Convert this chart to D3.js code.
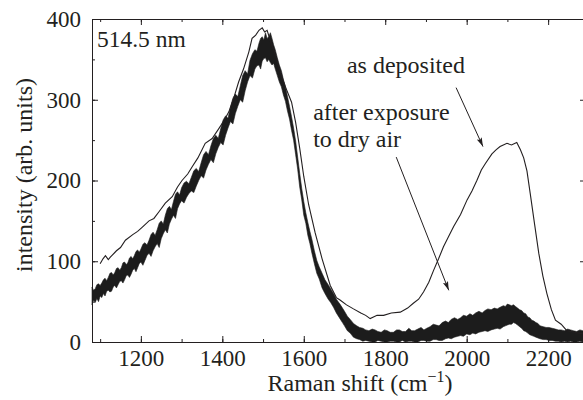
<!DOCTYPE html>
<html>
<head>
<meta charset="utf-8">
<script src="https://cdn.jsdelivr.net/npm/d3@7"></script>
<style>
  body { margin: 0; background: #fff; }
  .axis path, .axis line { stroke: #231f20; stroke-width: 1; }
</style>
</head>
<body>
<div id="chart"></div>
<script>
// "as deposited" spectrum (thin line)
const depX = [1100, 1107, 1113, 1120, 1125, 1140, 1150, 1162, 1180, 1192, 1203, 1220, 1232, 1244, 1260, 1277, 1290, 1301, 1315, 1326, 1340, 1358, 1375, 1391, 1405, 1416, 1428, 1440, 1452, 1465, 1473, 1482, 1490, 1498, 1504, 1510, 1520, 1530, 1540, 1555, 1570, 1580, 1590, 1600, 1612, 1628, 1645, 1665, 1680, 1689, 1705, 1722, 1740, 1752, 1763, 1780, 1796, 1815, 1837, 1855, 1869, 1882, 1894, 1907, 1919, 1931, 1943, 1955, 1968, 1985, 2001, 2013, 2025, 2036, 2046, 2062, 2072, 2082, 2090, 2099, 2110, 2123, 2132, 2140, 2148, 2156, 2167, 2177, 2187, 2197, 2208, 2218, 2232, 2246, 2265, 2286, 2295];
const depY = [97, 103, 107, 102, 105, 113, 117, 126, 133, 137, 142, 150, 153, 161, 172, 180, 192, 200, 208, 217, 228, 246, 252, 264, 275, 285, 302, 322, 338, 359, 376, 380, 386, 389, 384, 386, 370, 356, 338, 316, 297, 272, 240, 205, 170, 135, 103, 70, 55, 52, 46, 41, 36, 33, 29, 33, 33, 36, 37, 42, 48, 53, 62, 74, 89, 103, 118, 130, 143, 158, 176, 187, 200, 213, 221, 233, 238, 242, 244, 246, 244, 247, 238, 228, 212, 184, 145, 110, 82, 60, 40, 27, 22, 14, 12, 10, 10];

// "after exposure to dry air" spectrum (noisy thick trace): lower / upper edge of the band
const airX = [1080, 1084, 1088, 1092, 1096, 1100, 1104, 1108, 1112, 1116, 1120, 1124, 1128, 1132, 1136, 1140, 1144, 1148, 1152, 1156, 1160, 1164, 1168, 1172, 1176, 1180, 1184, 1188, 1192, 1196, 1200, 1205, 1210, 1215, 1220, 1225, 1230, 1235, 1240, 1245, 1250, 1255, 1260, 1265, 1270, 1275, 1280, 1285, 1290, 1295, 1300, 1306, 1312, 1318, 1324, 1330, 1336, 1342, 1348, 1354, 1360, 1366, 1372, 1378, 1384, 1390, 1396, 1402, 1408, 1414, 1420, 1426, 1432, 1438, 1444, 1450, 1456, 1462, 1468, 1474, 1480, 1485, 1490, 1494, 1498, 1502, 1506, 1510, 1514, 1518, 1522, 1526, 1530, 1535, 1540, 1545, 1550, 1555, 1560, 1565, 1570, 1575, 1580, 1585, 1590, 1595, 1600, 1605, 1610, 1615, 1620, 1626, 1632, 1638, 1645, 1652, 1660, 1666, 1673, 1680, 1690, 1695, 1700, 1707, 1714, 1722, 1730, 1737, 1745, 1752, 1760, 1768, 1775, 1782, 1790, 1798, 1805, 1812, 1820, 1828, 1835, 1842, 1850, 1858, 1865, 1872, 1880, 1888, 1895, 1902, 1910, 1918, 1925, 1932, 1940, 1948, 1955, 1962, 1970, 1978, 1985, 1992, 2000, 2008, 2015, 2022, 2030, 2038, 2045, 2052, 2060, 2068, 2075, 2082, 2090, 2095, 2100, 2105, 2110, 2115, 2120, 2125, 2130, 2135, 2140, 2145, 2150, 2155, 2160, 2165, 2170, 2175, 2180, 2188, 2195, 2202, 2210, 2218, 2225, 2232, 2240, 2248, 2255, 2262, 2270, 2278, 2285, 2290, 2295];
const airLo = [46, 52, 49, 54, 50, 57, 55, 60, 57, 63, 64, 62, 63, 68, 70, 67, 71, 75, 76, 73, 77, 82, 83, 80, 84, 89, 91, 87, 92, 97, 99, 95, 101, 107, 110, 106, 113, 118, 122, 117, 128, 134, 139, 135, 146, 152, 157, 153, 165, 171, 175, 172, 179, 184, 187, 185, 193, 200, 206, 203, 213, 220, 226, 222, 233, 241, 247, 244, 256, 265, 273, 270, 283, 292, 300, 297, 311, 322, 330, 327, 338, 342, 343, 338, 348, 351, 352, 347, 350, 346, 343, 345, 338, 330, 322, 316, 306, 298, 286, 276, 262, 250, 232, 214, 192, 176, 157, 147, 132, 122, 110, 97, 85, 78, 67, 60, 53, 49, 43, 36, 28, 24, 20, 14, 11, 6, 4, 3, 1, 2, 1, 0, 0, 2, 1, 0, 0, 1, 1, 0, 0, 2, 0, 1, 1, 0, 0, 2, 2, 1, 1, 3, 3, 2, 2, 4, 5, 4, 6, 7, 8, 7, 10, 9, 11, 10, 12, 13, 14, 13, 15, 16, 17, 16, 19, 20, 21, 22, 22, 24, 23, 21, 19, 17, 14, 13, 11, 9, 8, 7, 6, 5, 4, 3, 3, 2, 2, 1, 1, 0, 1, 0, 1, 0, 0, 1, 0, 1, 1];
const airHi = [68, 64, 66, 71, 72, 70, 73, 77, 79, 76, 80, 85, 86, 83, 86, 91, 92, 89, 92, 98, 99, 96, 98, 104, 106, 103, 107, 112, 114, 111, 115, 121, 123, 120, 126, 133, 136, 132, 139, 147, 150, 146, 157, 165, 168, 164, 174, 183, 186, 182, 191, 197, 199, 196, 204, 212, 215, 211, 222, 232, 236, 232, 243, 252, 256, 252, 264, 275, 280, 277, 291, 302, 307, 304, 317, 330, 336, 332, 349, 357, 362, 360, 370, 376, 378, 374, 383, 376, 378, 383, 376, 368, 362, 352, 343, 336, 325, 316, 304, 292, 279, 265, 249, 229, 209, 190, 174, 160, 148, 137, 127, 113, 101, 93, 85, 77, 71, 66, 60, 53, 46, 42, 38, 32, 28, 23, 20, 18, 17, 15, 14, 16, 15, 13, 12, 15, 14, 12, 12, 15, 15, 13, 13, 17, 14, 14, 16, 18, 15, 17, 19, 22, 21, 20, 24, 26, 24, 28, 30, 28, 30, 33, 32, 35, 33, 36, 38, 36, 39, 41, 40, 42, 41, 43, 45, 44, 47, 46, 45, 46, 44, 42, 40, 39, 36, 35, 31, 30, 27, 26, 24, 23, 20, 19, 18, 18, 17, 16, 15, 15, 14, 16, 15, 14, 13, 15, 14, 13, 13];

const xTicks = [1200, 1400, 1600, 1800, 2000, 2200];
const yTicks = [0, 100, 200, 300, 400];

const width = 583, height = 400;
const ink = "#231f20";
const serif = "'Liberation Serif', 'DejaVu Serif', serif";

const svg = d3.select("#chart").append("svg")
    .attr("width", width)
    .attr("height", height)
    .attr("font-family", serif)
    .style("display", "block")
    .style("overflow", "hidden");

// plot frame: the right edge sits just past the picture
const x = d3.scaleLinear().domain([1080, 2293]).range([92, 586]);
const y = d3.scaleLinear().domain([0, 400]).range([342, 19]);

const minorX = d3.range(1100, 2300, 100);
const minorY = d3.range(0, 401, 50);

function frame(axisFn, scale, values, size, transform, labels) {
    const a = axisFn(scale).tickValues(values).tickSize(size).tickSizeOuter(0);
    if (labels) a.tickFormat(d3.format("d")).tickPadding(labels);
    else a.tickFormat("");
    const g = svg.append("g").attr("class", "axis").attr("transform", transform).call(a);
    g.attr("font-family", serif).attr("font-size", 23);
    g.selectAll("text").attr("fill", ink);
    return g;
}

// minor ticks
frame(d3.axisBottom, x, minorX, -3, `translate(0,${y(0)})`);
frame(d3.axisTop, x, minorX, -3, `translate(0,${y(400)})`);
frame(d3.axisLeft, y, minorY, -3, `translate(${x.range()[0]},0)`);
frame(d3.axisRight, y, minorY, -3, `translate(${x.range()[1]},0)`);

// major ticks, labels on bottom and left
frame(d3.axisBottom, x, xTicks, -6, `translate(0,${y(0)})`, 8);
frame(d3.axisTop, x, xTicks, -6, `translate(0,${y(400)})`);
frame(d3.axisLeft, y, yTicks, -6, `translate(${x.range()[0]},0)`, 11);
frame(d3.axisRight, y, yTicks, -6, `translate(${x.range()[1]},0)`);

const plot = svg.append("g");

// thick noisy trace as a band
const airData = airX.map((v, i) => ({ x: v, lo: airLo[i], hi: airHi[i] }));
plot.append("path")
    .datum(airData)
    .attr("d", d3.area().x(d => x(d.x)).y0(d => y(d.lo)).y1(d => y(d.hi)))
    .attr("fill", "#1c1c1c")
    .attr("stroke", "#1c1c1c")
    .attr("stroke-width", 0.6);

// thin trace
const depData = depX.map((v, i) => ({ x: v, y: depY[i] }));
plot.append("path")
    .datum(depData)
    .attr("d", d3.line().x(d => x(d.x)).y(d => y(d.y)))
    .attr("fill", "none")
    .attr("stroke", ink)
    .attr("stroke-width", 1.1);

// arrow heads
svg.append("defs").append("marker")
    .attr("id", "head")
    .attr("viewBox", "0 0 10 10")
    .attr("refX", 10).attr("refY", 5)
    .attr("markerWidth", 9).attr("markerHeight", 9)
    .attr("markerUnits", "userSpaceOnUse")
    .attr("orient", "auto")
    .append("path")
    .attr("d", "M0,2 L10,5 L0,8 L2,5 Z")
    .attr("fill", ink);

const arrows = [
    { from: [1974, 315], to: [2040, 242] },
    { from: [1827, 229], to: [1956, 64] }
];
svg.selectAll(".arrow").data(arrows).enter().append("line")
    .attr("class", "arrow")
    .attr("x1", d => x(d.from[0])).attr("y1", d => y(d.from[1]))
    .attr("x2", d => x(d.to[0])).attr("y2", d => y(d.to[1]))
    .attr("stroke", ink)
    .attr("stroke-width", 1)
    .attr("marker-end", "url(#head)");

// annotations
const notes = [
    { text: "514.5 nm", x: 1092, y: 365, size: 23.5 },
    { text: "as deposited", x: 1706, y: 333, size: 24 },
    { text: "after exposure", x: 1623, y: 275, size: 24 },
    { text: "to dry air", x: 1623, y: 242, size: 24 }
];
svg.selectAll(".note").data(notes).enter().append("text")
    .attr("class", "note")
    .attr("x", d => x(d.x))
    .attr("y", d => y(d.y))
    .attr("font-size", d => d.size)
    .attr("fill", ink)
    .text(d => d.text);

// axis titles
svg.append("text")
    .attr("transform", `translate(32,175) rotate(-90)`)
    .attr("text-anchor", "middle")
    .attr("font-size", 24)
    .attr("fill", ink)
    .text("intensity (arb. units)");

const xTitle = svg.append("text")
    .attr("x", 360)
    .attr("y", 391)
    .attr("text-anchor", "middle")
    .attr("font-size", 24)
    .attr("fill", ink);
xTitle.append("tspan").text("Raman shift (cm");
xTitle.append("tspan").attr("dy", -9).attr("font-size", 16).text("\u22121");
xTitle.append("tspan").attr("dy", 9).text(")");
</script>
</body>
</html>
